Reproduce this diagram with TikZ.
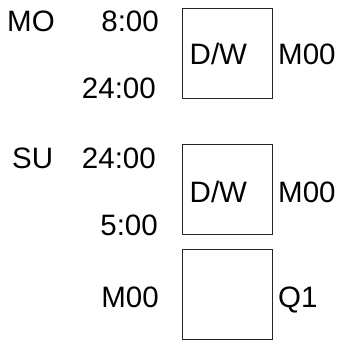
\documentclass[tikz,border=0pt]{standalone}
\usepackage{fontspec}
\setmainfont{Liberation Sans}
\begin{document}
\begin{tikzpicture}[x=1pt,y=1pt,
  lbl/.style={inner sep=0pt,font=\fontsize{29.5}{32}\selectfont},
  cell/.style={draw=black!85,line width=1pt,minimum width=90pt,minimum height=90pt,inner sep=0pt}]
\useasboundingbox (0,0) rectangle (340,340);
\node[cell] (b1) at (227,286) {};
\node[cell] (b2) at (227,150) {};
\node[cell] (b3) at (227,45.5) {};
\node[lbl,anchor=base west] (mo) at (7,308) {MO};
\node[lbl,anchor=base east] (t1) at (159,308) {8:00};
\node[lbl,anchor=base east] (t2) at (156,241) {24:00};
\node[lbl,anchor=base west] (dw1) at (189.5,275) {D/W};
\node[lbl,anchor=base west] (m1) at (278,275) {M00};
\node[lbl,anchor=base west] (su) at (12,171) {SU};
\node[lbl,anchor=base east] (t3) at (156,171) {24:00};
\node[lbl,anchor=base west] (dw2) at (189.5,137) {D/W};
\node[lbl,anchor=base west] (m2) at (278,137) {M00};
\node[lbl,anchor=base east] (t4) at (158,104) {5:00};
\node[lbl,anchor=base east] (m3) at (159,32) {M00};
\node[lbl,anchor=base west] (q1) at (278,32) {Q1};
\end{tikzpicture}
\end{document}
